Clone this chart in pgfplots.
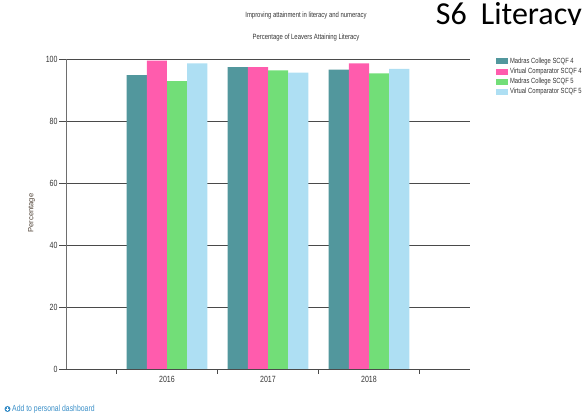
\documentclass[border=0pt]{standalone}
\usepackage{pgfplots}
\pgfplotsset{compat=1.18}
\usepackage{fontspec}
\setmainfont[FakeStretch=0.78]{Liberation Sans}
\newfontfamily\headfont{Carlito}
\definecolor{barteal}{HTML}{52979D}
\definecolor{barpink}{HTML}{FF5CAD}
\definecolor{bargreen}{HTML}{72DE78}
\definecolor{barblue}{HTML}{AEDFF3}
\definecolor{axisgrey}{HTML}{6E6E6E}
\definecolor{gridgrey}{HTML}{4A4A4A}
\definecolor{labeltext}{HTML}{333333}
\definecolor{linkblue}{HTML}{3A8FC8}
\begin{document}
\begin{tikzpicture}[x=1pt,y=1pt]
\useasboundingbox (0,0) rectangle (582,414);
\begin{axis}[
  at={(66pt,45pt)}, anchor=origin,
  scale only axis, width=404pt, height=310pt,
  xmin=2015, xmax=2019, ymin=0, ymax=100,
  axis y line=left, axis x line=bottom,
  axis line style={axisgrey,-,line width=0.8pt},
  x axis line style={gridgrey,-,line width=0.9pt},
  xtick={2016,2017,2018},
  xticklabels={2016,2017,2018},
  minor xtick={2015.5,2016.5,2017.5,2018.5},
  x tick style={draw=none},
  minor x tick style={draw=gridgrey,line width=0.6pt},
  minor tick length=5pt,
  xtick pos=bottom,
  ytick={0,20,40,60,80,100},
  y tick style={gridgrey,line width=0.8pt},
  major tick length=7pt,
  tick align=outside,
  ymajorgrids,
  major grid style={gridgrey,line width=0.8pt},
  axis on top=false,
  /pgf/number format/assume math mode=true,
  /pgf/number format/1000 sep={},
  tick label style={font=\fontsize{9}{10}\selectfont,text=labeltext},
  xticklabel style={yshift=3pt},
  yticklabel style={xshift=2pt},
  ylabel={},
  ybar, bar width=0.2,
  legend style={
    at={(430pt,313pt)}, anchor=north west, draw=none, fill=none,
    font=\fontsize{7.5}{9}\selectfont, text=labeltext,
    legend cell align=left, inner sep=0pt, outer sep=0pt,
    /tikz/every even column/.style={column sep=0pt},
    row sep=-0.8pt, legend columns=1,
    legend image post style={},
  },
  legend image code/.code={
    \fill[#1] (0pt,-3pt) rectangle (12pt,3pt);
  },
]
\addplot[fill=barteal,draw=none,bar shift=-0.3] coordinates {(2016,94.8) (2017,97.4) (2018,96.6)};
\addlegendentry{Madras College SCQF 4}
\addplot[fill=barpink,draw=none,bar shift=-0.1] coordinates {(2016,99.5) (2017,97.4) (2018,98.6)};
\addlegendentry{Virtual Comparator SCQF 4}
\addplot[fill=bargreen,draw=none,bar shift=0.1] coordinates {(2016,92.9) (2017,96.3) (2018,95.4)};
\addlegendentry{Madras College SCQF 5}
\addplot[fill=barblue,draw=none,bar shift=0.3] coordinates {(2016,98.6) (2017,95.6) (2018,96.8)};
\addlegendentry{Virtual Comparator SCQF 5}
\end{axis}
% headings and labels around the plot area
\node[font=\fontsize{7.6}{9}\selectfont,text=labeltext] at (306,398.5) {Improving attainment in literacy and numeracy};
\node[font=\fontsize{7.6}{9}\selectfont,text=labeltext] at (306,376.5) {Percentage of Leavers Attaining Literacy};
\node[rotate=90,font=\fontsize{7.6}{9}\selectfont,text=labeltext!80!brown] at (31.5,201) {\scalebox{1.28}[1]{Percentage}};
\begin{scope}
  \clip (420,389) rectangle (582,414);
  \node[anchor=base east,font=\headfont\fontsize{32}{36}\selectfont,inner sep=0pt] at (582,389) {S6\hspace{14pt}Literacy};
\end{scope}
\fill[linkblue] (7.5,5) circle (3pt);
\draw[white,line width=0.8pt] (5.7,5) -- (9.3,5) (7.5,3.2) -- (7.5,6.8);
\node[anchor=west,inner sep=0pt,font=\fontsize{8.8}{10}\selectfont,text=linkblue] at (12,5) {Add to personal dashboard};
\end{tikzpicture}
\end{document}
